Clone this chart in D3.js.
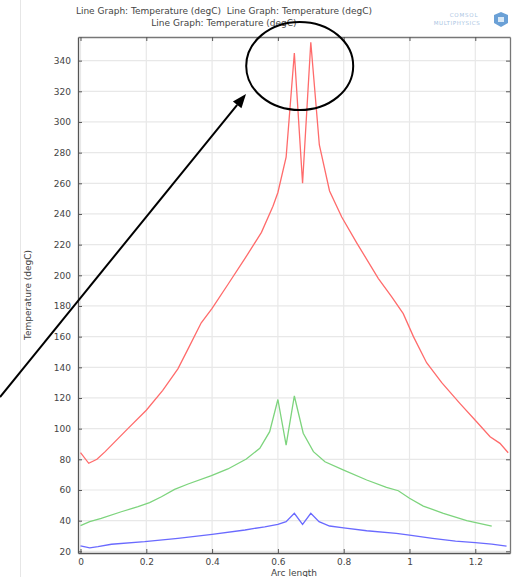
<!DOCTYPE html>
<html>
<head>
<meta charset="utf-8">
<script src="https://cdn.jsdelivr.net/npm/d3@7"></script>
<style>
html,body{margin:0;padding:0;background:#fff;}
svg{display:block;font-family:"DejaVu Sans",sans-serif;}
</style>
</head>
<body>
<svg id="chart" width="512" height="577"></svg>
<script>
// ---- data ----
const redX = [0, 0.025, 0.05, 0.075, 0.144, 0.2, 0.25, 0.296, 0.327, 0.367, 0.4, 0.448, 0.5, 0.55, 0.585, 0.6, 0.625, 0.65, 0.675, 0.7, 0.726, 0.757, 0.794, 0.84, 0.905, 0.946, 0.981, 1.012, 1.052, 1.098, 1.153, 1.204, 1.245, 1.275, 1.3];
const redT = [84.3, 77.4, 80, 85, 100, 112, 125, 139, 152, 169, 178.5, 194, 211, 228, 245, 254, 277, 345, 260, 352, 285, 255, 238, 221, 198, 186, 175, 160, 143, 130, 116.5, 104.5, 94.7, 90.4, 84.3];
const greenX = [0, 0.028, 0.063, 0.124, 0.175, 0.21, 0.246, 0.286, 0.327, 0.398, 0.448, 0.504, 0.545, 0.575, 0.6, 0.625, 0.65, 0.677, 0.708, 0.743, 0.8, 0.87, 0.93, 0.966, 1.0, 1.042, 1.103, 1.174, 1.25];
const greenT = [36.7, 39.3, 41.5, 45.8, 49.1, 51.7, 55.6, 60.4, 63.9, 69.3, 73.7, 80.2, 87.2, 98, 119, 89.3, 121.3, 97, 85, 78.4, 73, 66.5, 61.7, 59.5, 54.6, 49.5, 44.8, 40, 36.5];
const blueX = [0, 0.028, 0.053, 0.094, 0.195, 0.296, 0.4, 0.5, 0.56, 0.6, 0.625, 0.65, 0.675, 0.7, 0.725, 0.757, 0.8, 0.87, 0.96, 1.0, 1.07, 1.14, 1.2, 1.25, 1.295];
const blueT = [23.6, 22.3, 23, 24.6, 26.3, 28.5, 31.1, 33.9, 36, 37.6, 39.3, 44.8, 37.6, 44.8, 39.3, 36.5, 35.3, 33.4, 31.7, 30.6, 28.5, 26.7, 25.6, 24.7, 23.4];
const xTicks = [0, 0.2, 0.4, 0.6, 0.8, 1, 1.2];
const xTickLabels = ["0", "0.2", "0.4", "0.6", "0.8", "1", "1.2"];
const yTicks = [20, 40, 60, 80, 100, 120, 140, 160, 180, 200, 220, 240, 260, 280, 300, 320, 340];
const titleLine1 = "Line Graph: Temperature (degC)  Line Graph: Temperature (degC)";
const titleLine2 = "Line Graph: Temperature (degC)";
const xLabel = "Arc length";
const yLabel = "Temperature (degC)";

// ---- layout ----
const L = 78, R = 510, T = 37, B = 553;
const svg = d3.select("#chart");
const x = d3.scaleLinear().domain([-0.0076, 1.3055]).range([L, R]);
const y = d3.scaleLinear().domain([18.9, 355.4]).range([B, T]);

// faint panel line
svg.append("line").attr("x1", 20.5).attr("x2", 20.5).attr("y1", 0).attr("y2", 577)
  .attr("stroke", "#e6e6e6").attr("stroke-width", 1);

// grid
const grid = svg.append("g");
grid.selectAll(".gx").data(xTicks).enter().append("line")
  .attr("x1", d => x(d)).attr("x2", d => x(d)).attr("y1", T).attr("y2", B)
  .attr("stroke", "#e8e8e8").attr("stroke-width", 1.2);
grid.selectAll(".gy").data(yTicks).enter().append("line")
  .attr("x1", L).attr("x2", R).attr("y1", d => y(d)).attr("y2", d => y(d))
  .attr("stroke", "#e8e8e8").attr("stroke-width", 1.2);

// series
const line = d3.line().x(d => x(d[0])).y(d => y(d[1]));
const series = [
  {xs: blueX, ts: blueT, c: "#6a6aff"},
  {xs: greenX, ts: greenT, c: "#7dd47d"},
  {xs: redX, ts: redT, c: "#ff6b6b"}
];
series.forEach(s => {
  svg.append("path").datum(d3.zip(s.xs, s.ts))
    .attr("d", line).attr("fill", "none").attr("stroke", s.c).attr("stroke-width", 1.3)
    .attr("stroke-linejoin", "miter");
});

// axes (inward ticks on all four sides)
const tk = 4;
const axB = svg.append("g").attr("transform", `translate(0,${B})`)
  .call(d3.axisBottom(x).tickValues(xTicks).tickSizeInner(-tk).tickSizeOuter(0).tickPadding(6)
    .tickFormat((d, i) => xTickLabels[i]));
const axT = svg.append("g").attr("transform", `translate(0,${T})`)
  .call(d3.axisTop(x).tickValues(xTicks).tickSizeInner(-tk).tickSizeOuter(0).tickFormat(""));
const axL = svg.append("g").attr("transform", `translate(${L},0)`)
  .call(d3.axisLeft(y).tickValues(yTicks).tickSizeInner(-tk).tickSizeOuter(0).tickPadding(7));
const axR = svg.append("g").attr("transform", `translate(${R},0)`)
  .call(d3.axisRight(y).tickValues(yTicks).tickSizeInner(-tk).tickSizeOuter(0).tickFormat(""));
[axB, axT, axL, axR].forEach(a => {
  a.select(".domain").attr("stroke", "#555").attr("stroke-width", 1.3);
  a.selectAll(".tick line").attr("stroke", "#555");
  a.selectAll("text").attr("fill", "#444").attr("font-size", 9).attr("font-family", "DejaVu Sans");
});
axR.select(".domain").attr("stroke", "#777");
axT.select(".domain").attr("stroke", "#777");

// titles
svg.append("text").attr("x", 224).attr("y", 14).attr("text-anchor", "middle")
  .attr("font-size", 9).attr("fill", "#444").attr("xml:space", "preserve").style("white-space", "pre").text(titleLine1);
svg.append("text").attr("x", 224).attr("y", 26).attr("text-anchor", "middle")
  .attr("font-size", 9).attr("fill", "#444").text(titleLine2);

// axis labels
svg.append("text").attr("x", (L + R) / 2).attr("y", 576).attr("text-anchor", "middle")
  .attr("font-size", 9).attr("fill", "#444").text(xLabel);
svg.append("text").attr("transform", `translate(31,${(T + B) / 2}) rotate(-90)`)
  .attr("text-anchor", "middle").attr("font-size", 9).attr("fill", "#444").text(yLabel);

// COMSOL logo
svg.append("text").attr("x", 464).attr("y", 17).attr("text-anchor", "middle")
  .attr("font-size", 5.5).attr("fill", "#a9c4e2").attr("letter-spacing", 0.8).text("COMSOL");
svg.append("text").attr("x", 457).attr("y", 24.5).attr("text-anchor", "middle")
  .attr("font-size", 5.5).attr("fill", "#a9c4e2").attr("letter-spacing", 0.6).text("MULTIPHYSICS");
svg.append("path").attr("d", "M494,15 L501,12 L508,15 L508,23 L501,27 L494,23 Z").attr("fill", "#6aa0d6");
svg.append("path").attr("d", "M498,17 L504,17 L504,22 L498,22 Z").attr("fill", "#d8e8f6");

// annotation: ellipse and arrow
svg.append("ellipse").attr("cx", 299.7).attr("cy", 66).attr("rx", 53.5).attr("ry", 44)
  .attr("fill", "none").attr("stroke", "#000").attr("stroke-width", 2);
const x0 = 0, y0 = 397, x1 = 246, y1 = 94;
const ang = Math.atan2(y1 - y0, x1 - x0);
const hl = 14, hw = 5.5;
const bx = x1 - hl * Math.cos(ang), by = y1 - hl * Math.sin(ang);
svg.append("line").attr("x1", x0).attr("y1", y0).attr("x2", bx).attr("y2", by)
  .attr("stroke", "#000").attr("stroke-width", 2);
svg.append("path").attr("d",
  `M${x1},${y1} L${bx + hw * Math.sin(ang)},${by - hw * Math.cos(ang)} L${bx - hw * Math.sin(ang)},${by + hw * Math.cos(ang)} Z`)
  .attr("fill", "#000");
</script>
</body>
</html>
